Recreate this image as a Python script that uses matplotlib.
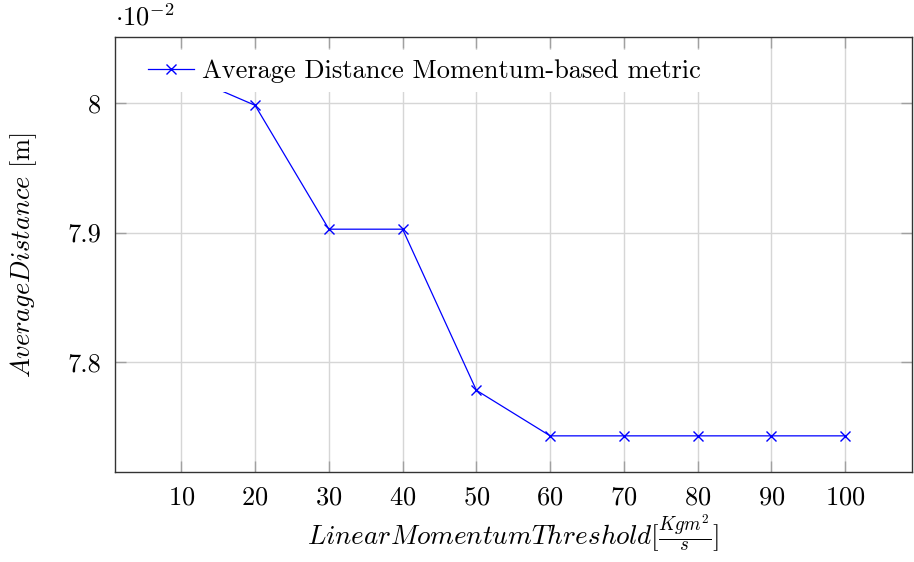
import numpy as np
import matplotlib
matplotlib.use("Agg")
import matplotlib.pyplot as plt
from matplotlib.ticker import FixedLocator, FixedFormatter

# Computer Modern look (like pgfplots)
plt.rcParams['font.family'] = ['cmr10', 'DejaVu Serif']
plt.rcParams['mathtext.fontset'] = 'cm'
plt.rcParams['axes.unicode_minus'] = False
plt.rcParams['axes.formatter.use_mathtext'] = True

# data (y values in units of 10^-2 m)
threshold = [10, 20, 30, 40, 50, 60, 70, 80, 90, 100]
avg_distance = [8.0225, 7.998, 7.9026, 7.9026, 7.7785, 7.7434, 7.7434, 7.7434, 7.7434, 7.7434]

x_ticks = [10, 20, 30, 40, 50, 60, 70, 80, 90, 100]
y_ticks = [7.8, 7.9, 8.0]
y_tick_labels = ['7.8', '7.9', '8']

fs = 19

fig = plt.figure(figsize=(9.14, 5.62), dpi=100)
ax = fig.add_axes([0.1258, 0.160, 0.8715, 0.7736])

ax.plot(threshold, avg_distance, color='#0000ff', lw=0.9, marker='x',
        markersize=6.5, markeredgewidth=1.0, label='Average Distance Momentum-based metric',
        zorder=3)

# pgfplots style enlarge limits (10%)
xr = max(threshold) - min(threshold)
yr = max(avg_distance) - min(avg_distance)
ax.set_xlim(min(threshold) - 0.1 * xr, max(threshold) + 0.1 * xr)
ax.set_ylim(min(avg_distance) - 0.1 * yr, max(avg_distance) + 0.1 * yr)

ax.xaxis.set_major_locator(FixedLocator(x_ticks))
ax.yaxis.set_major_locator(FixedLocator(y_ticks))
ax.yaxis.set_major_formatter(FixedFormatter(y_tick_labels))

ax.grid(True, color='#d6d6d6', lw=1.0, zorder=0)
ax.set_axisbelow(True)
ax.tick_params(direction='in', length=8, width=1.0, color='#a0a0a0',
               top=True, right=True, labelsize=fs, pad=10)
for s in ax.spines.values():
    s.set_color('#333333')
    s.set_linewidth(1.0)

ax.text(0.0, 1.015, r'$\cdot 10^{-2}$', transform=ax.transAxes,
        ha='left', va='bottom', fontsize=fs)

ax.set_ylabel(r'$Average Distance$ [m]', fontsize=fs, labelpad=20)
ax.set_xlabel(r'$LinearMomentumThreshold[\frac{Kgm^2}{s}]$', fontsize=19.5, labelpad=2)

leg = ax.legend(loc='upper left', bbox_to_anchor=(0.03, 0.97), borderaxespad=0,
                fontsize=fs, frameon=True, fancybox=False, framealpha=1,
                facecolor='white', edgecolor='none', handlelength=1.75,
                handletextpad=0.3, borderpad=0.34)
leg.set_zorder(5)

fig.savefig('out.png', dpi=100)
